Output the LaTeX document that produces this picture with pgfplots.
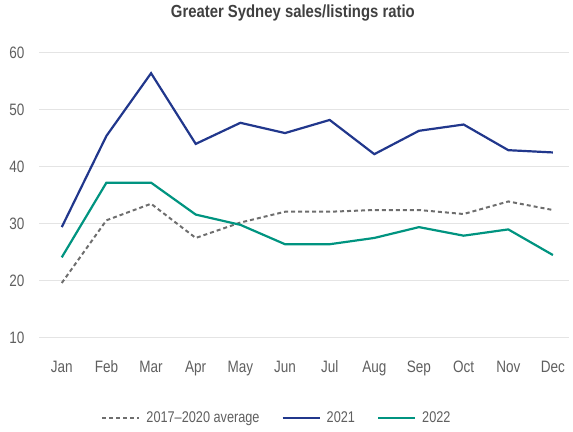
\documentclass[border=0pt]{standalone}
\usepackage{fontspec}
\setmainfont{Liberation Sans}[FakeStretch=0.82]
\newfontfamily\titlefont{Liberation Sans}[FakeStretch=0.85]
\usepackage{pgfplots}
\pgfplotsset{compat=1.18}
\definecolor{navy21}{RGB}{33,55,140}
\definecolor{teal22}{RGB}{0,148,128}
\definecolor{avggray}{RGB}{110,110,110}
\definecolor{labgray}{RGB}{95,95,95}
\definecolor{gridgray}{RGB}{228,228,228}
\begin{document}
\begin{tikzpicture}
\begin{axis}[
  name=ax,
  scale only axis,
  width=530bp, height=285bp,
  xmin=-0.51, xmax=11.36,
  ymin=10, ymax=60,
  axis line style={draw=none},
  ytick={10,20,...,60},
  xtick={0,...,11},
  xticklabels={Jan,Feb,Mar,Apr,May,Jun,Jul,Aug,Sep,Oct,Nov,Dec},
  major tick length=0pt,
  ymajorgrids,
  grid style={gridgray, line width=1.5bp},
  tick label style={font=\fontsize{16.5bp}{18bp}\selectfont, text=labgray},
  /pgf/number format/assume math mode=true,
  xticklabel style={yshift=-19bp, text height=11.8bp, text depth=3bp},
  yticklabel style={xshift=-11bp},
  title={Greater Sydney sales/listings ratio},
  title style={font=\titlefont\fontsize{17.5bp}{20bp}\selectfont\bfseries, text=black!75, at={(0.479,1)}, anchor=center, yshift=34.2bp},
  legend columns=3,
  legend style={at={(0.449,-0.282)}, anchor=center, draw=none, fill=none,
    font=\fontsize{15.5bp}{17bp}\selectfont, text=labgray,
    /tikz/every even column/.append style={column sep=20bp}},
  legend image code/.code={\draw[#1] (0bp,0bp) -- (37bp,0bp); \path (41bp,0bp);},
]
\addplot[avggray, line width=2bp, dash pattern=on 4bp off 3bp] coordinates {
  (0,19.6) (1,30.6) (2,33.5) (3,27.5) (4,30.2) (5,32.1) (6,32.1) (7,32.4) (8,32.4) (9,31.7) (10,33.9) (11,32.4)
}; \addlegendentry{2017--2020 average}
\addplot[navy21, line width=2.2bp] coordinates {
  (0,29.4) (1,45.4) (2,56.4) (3,44.0) (4,47.7) (5,45.9) (6,48.2) (7,42.2) (8,46.3) (9,47.4) (10,42.9) (11,42.5)
}; \addlegendentry{2021}
\addplot[teal22, line width=2.2bp] coordinates {
  (0,24.1) (1,37.2) (2,37.2) (3,31.6) (4,29.8) (5,26.4) (6,26.4) (7,27.5) (8,29.4) (9,27.9) (10,29.0) (11,24.5)
}; \addlegendentry{2022}
\end{axis}
\path[use as bounding box] (-39bp,-94.3bp) rectangle (534bp,337.7bp);
\end{tikzpicture}
\end{document}
